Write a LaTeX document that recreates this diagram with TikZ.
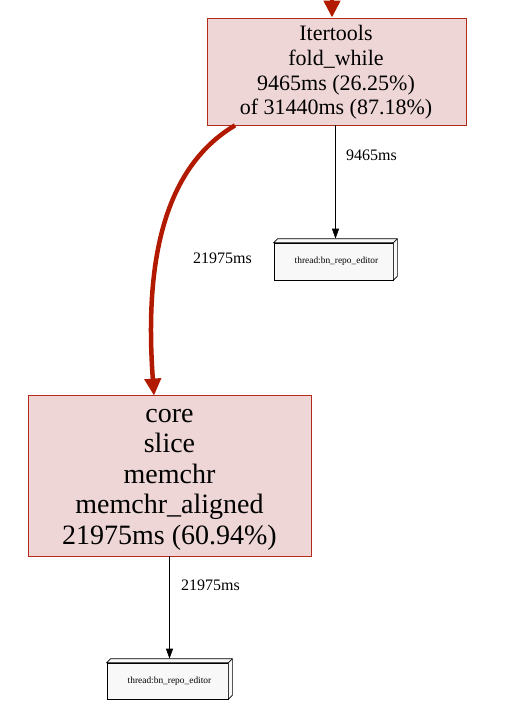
\documentclass[tikz,border=0pt]{standalone}
\usepackage{fontspec}
\setmainfont{Liberation Serif}
\usetikzlibrary{arrows.meta,calc}
\definecolor{nodefill}{HTML}{EDD6D5}
\definecolor{nodeline}{HTML}{B22A1A}
\definecolor{redline}{HTML}{B21A00}
\definecolor{thrfill}{HTML}{F8F8F8}
\begin{document}
\begin{tikzpicture}[x=1pt,y=-1pt,
  fnode/.style={draw=nodeline, fill=nodefill, line width=0.8pt, inner sep=0pt, align=center},
  ftext/.style={inner sep=0pt, align=center},
  thrbox/.style={draw=black, fill=thrfill, line width=0.7pt, inner sep=0pt, font=\fontsize{9.4}{11}\selectfont},
  redge/.style={draw=redline, line width=4.5pt, -{Triangle[length=17pt,width=16pt]}},
  bedge/.style={draw=black, line width=0.7pt, -{Triangle[length=10pt,width=7pt]}},
  elabel/.style={font=\fontsize{16}{18}\selectfont, inner sep=0pt, anchor=west}]
\useasboundingbox (0,0) rectangle (515,710);
% function nodes
\node[fnode, minimum width=259pt, minimum height=107pt] (iter) at (336.5,71.5) {};
\node[ftext, font=\fontsize{22}{24.8}\selectfont] (itertext) at (336,72.5)
  {Itertools\\fold\_while\\9465ms (26.25\%)\\of 31440ms (87.18\%)};
\node[fnode, minimum width=283pt, minimum height=161pt] (mem) at (169.5,475.5) {};
\node[ftext, font=\fontsize{28}{30.5}\selectfont] (memtext) at (169.5,479.5)
  {core\\slice\\memchr\\memchr\_aligned\\21975ms (60.94\%)};
% thread boxes (box3d)
\node[thrbox, minimum width=119pt, minimum height=37pt] (t1) at (333.5,261.5) {\hspace{6pt}thread:bn\_repo\_editor};
\filldraw[fill=thrfill, draw=black, line width=0.7pt, line join=miter]
  (t1.north west) -- ++(4,-4) -- ($(t1.north east)+(4,-4)$) -- ($(t1.south east)+(4,-4)$) -- (t1.south east) -- (t1.north east) -- cycle;
\draw[line width=0.7pt] (t1.north east) -- ++(4,-4);
\coordinate (t1top) at ($(t1.north)+(2,-4)$);
\node[thrbox, minimum width=121pt, minimum height=36pt] (t2) at (167.5,681) {\hspace{4pt}thread:bn\_repo\_editor};
\filldraw[fill=thrfill, draw=black, line width=0.7pt, line join=miter]
  (t2.north west) -- ++(4,-4) -- ($(t2.north east)+(4,-4)$) -- ($(t2.south east)+(4,-4)$) -- (t2.south east) -- (t2.north east) -- cycle;
\draw[line width=0.7pt] (t2.north east) -- ++(4,-4);
\coordinate (t2top) at ($(t2.north)+(2,-4)$);
% incoming edge
\coordinate (topin) at (332,-6);
\draw[redge] (topin) -- (topin |- iter.north);
% edges
\draw[redge] ($(iter.south)+(-101.5,0)$) .. controls (160,170) and (145,270) .. ($(mem.north)+(-15.5,1)$);
\node[elabel] (l1) at (193,258) {21975ms};
\draw[bedge] (iter.south -| t1top) -- (t1top);
\node[elabel] (l2) at (346,155) {9465ms};
\draw[bedge] (mem.south -| t2top) -- (t2top);
\node[elabel] (l3) at (181,585) {21975ms};
\end{tikzpicture}
\end{document}
